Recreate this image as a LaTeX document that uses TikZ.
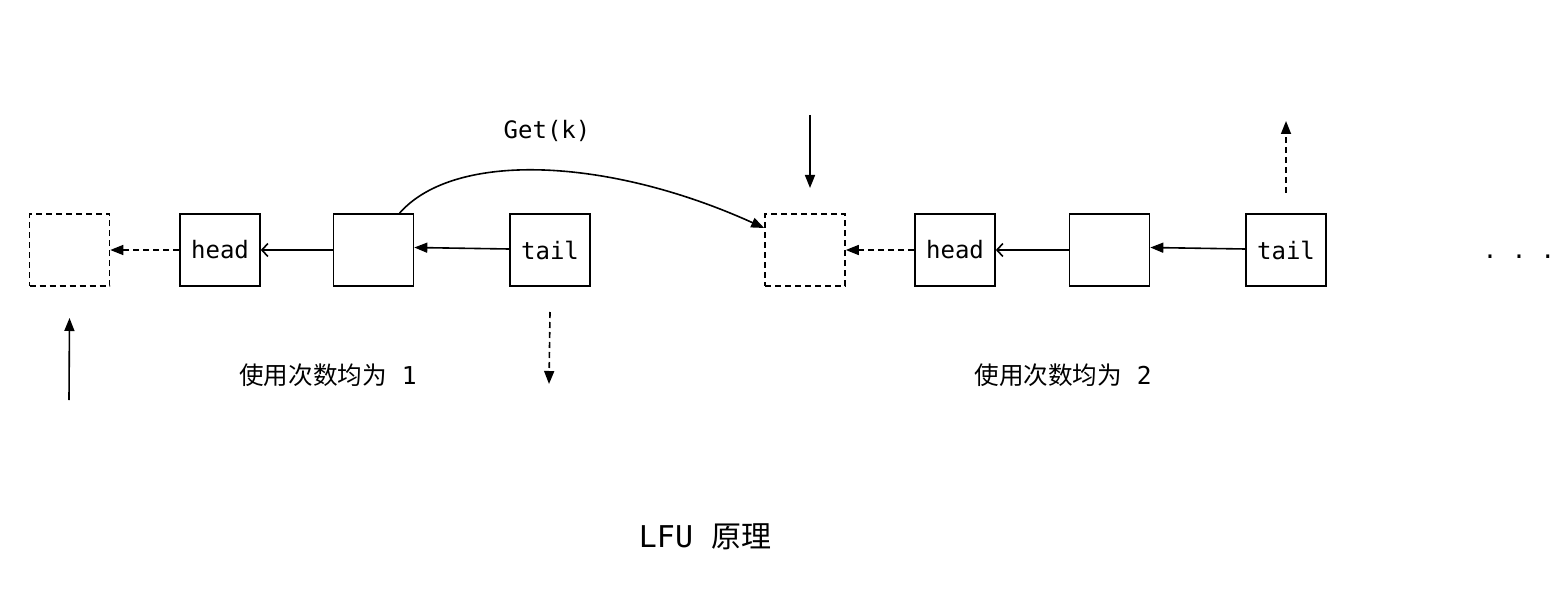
\documentclass[tikz,border=0pt]{standalone}
\usepackage{fontspec}
\setmonofont{DejaVu Sans Mono}
\newfontfamily\cjk{Noto Sans CJK SC}
\usetikzlibrary{arrows.meta,calc}
\begin{document}
\begin{tikzpicture}[x=0.5pt,y=-0.5pt,
  every node/.style={font=\ttfamily\fontsize{12pt}{14pt}\selectfont},
  cell/.style={draw,line width=0.8pt,minimum width=40pt,minimum height=36pt,inner sep=0pt},
  ghost/.style={cell,dash pattern=on 3pt off 2pt},
  link/.style={line width=0.8pt,-{Triangle[length=6.5pt,width=5pt]}},
  dlink/.style={link,dash pattern=on 3pt off 2pt},
  olink/.style={line width=0.8pt,-{Straight Barb[length=3pt,width=6.5pt]}},
  lbl/.style={font=\fontsize{12.3pt}{14pt}\selectfont}]
\useasboundingbox (0,0) rectangle (1566,604);
% row 1
\node[ghost] (a) at (69.5,250) {};
\node[cell] (h1) at (220,250) {head};
\node[cell] (m1) at (373.5,250) {};
\node[cell] (t1) at (550,250) {tail};
% row 2
\node[ghost] (b) at (805,250) {};
\node[cell] (h2) at (955,250) {head};
\node[cell] (m2) at (1109.5,250) {};
\node[cell] (t2) at (1286,250) {tail};
\node[anchor=base] (dots) at (1519,258) {. . .};
% links
\draw[dlink] (h1) -- (a);
\draw[olink] (m1) -- (h1);
\draw[link] (t1.west |- 0,249) -- (m1.east |- 0,247.5);
\draw[dlink] (h2) -- (b);
\draw[olink] (m2) -- (h2);
\draw[link] (t2.west |- 0,249) -- (m2.east |- 0,247.5);
% free arrows
\coordinate (ain) at (69,400);
\draw[link] (ain) -- (a.south |- 0,318);
\coordinate (tout) at (549,384);
\draw[dlink] (t1.south |- 0,312) -- (tout);
\coordinate (bin) at (810,115);
\draw[link] (bin) -- (810,188);
\coordinate (t2out) at (1286,121);
\draw[dlink] (t2.north |- 0,193) -- (t2out);
% get curve
\coordinate (cs) at ($(m1.north)+(26,0)$);
\coordinate (ce) at ($(b.west)+(0,-22)$);
\draw[link] (cs) .. controls (455,150) and (610,158) .. (ce);
% labels
\node (get) at (547,131) {Get(k)};
\node[lbl] (c1) at (328,375) {{\cjk 使用次数均为}\ttfamily\ 1};
\node[lbl] (c2) at (1063,375) {{\cjk 使用次数均为}\ttfamily\ 2};
\node[font=\fontsize{15pt}{18pt}\selectfont] (title) at (705,537) {\ttfamily LFU {\cjk 原理}};
\end{tikzpicture}
\end{document}
